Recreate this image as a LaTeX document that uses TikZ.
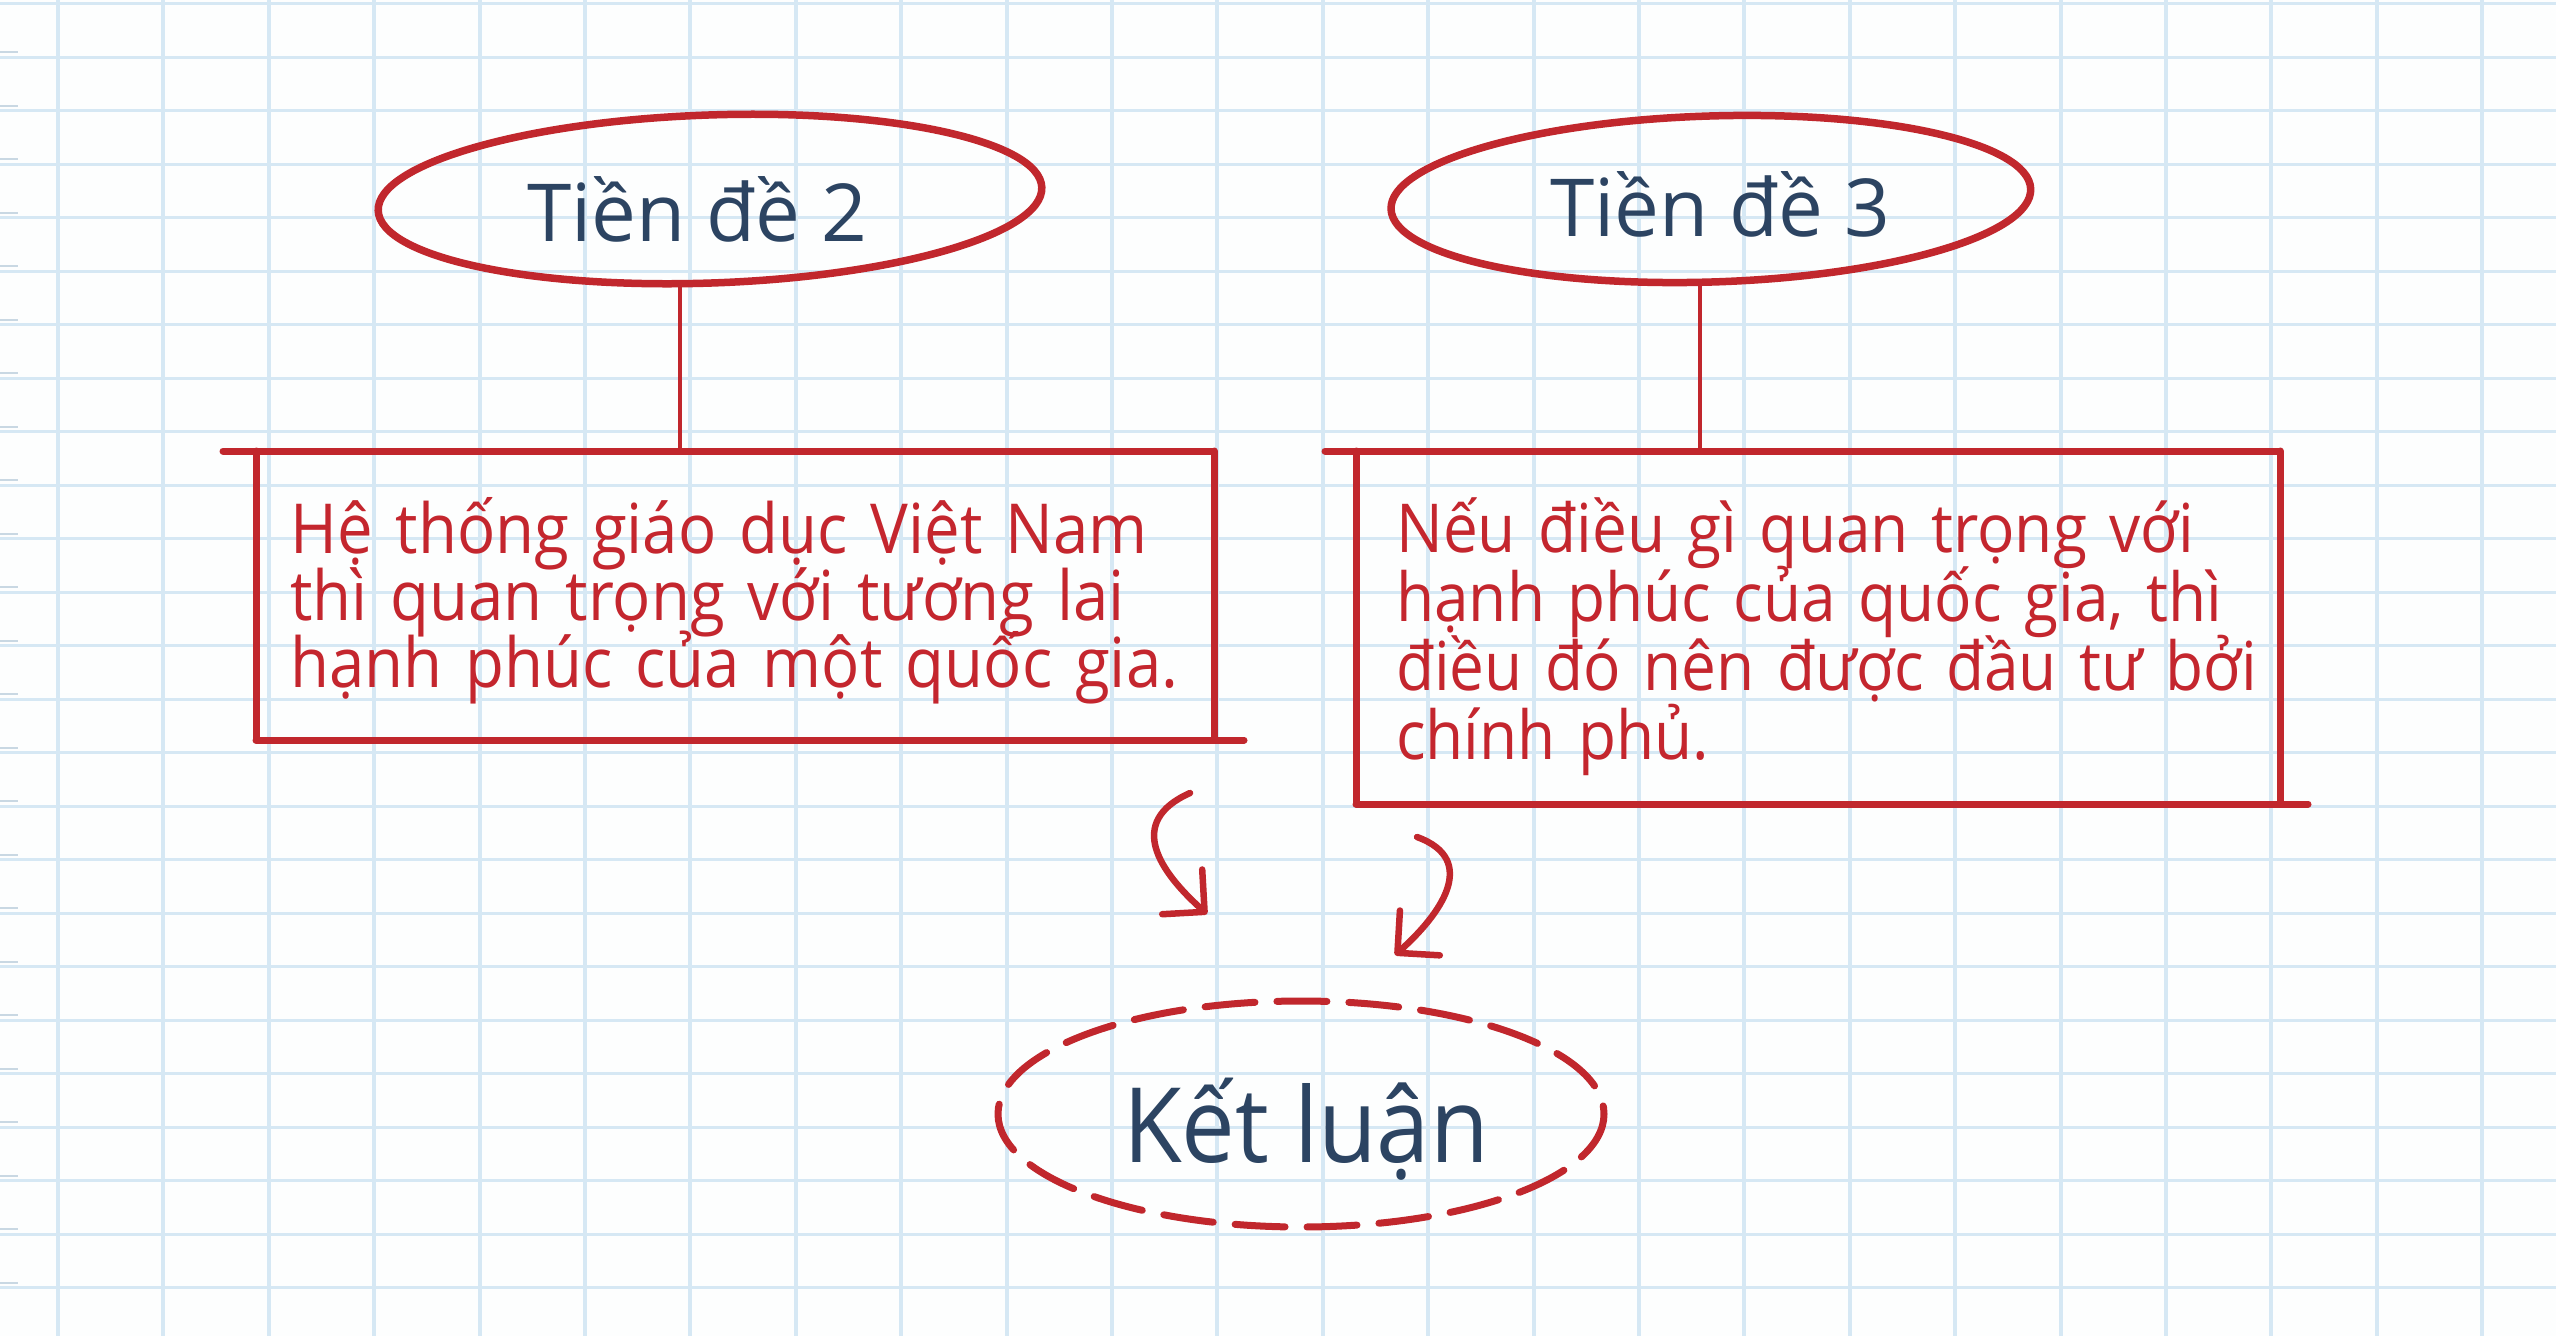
\documentclass[tikz,border=0pt]{standalone}
\usepackage{fontspec}
\setmainfont{Open Sans}
\newfontfamily\handfont[FakeStretch=0.92]{Open Sans}
\newcommand\boxfont{\handfont\fontsize{69}{67}\selectfont\lineskiplimit=-200pt\relax\lineskip=0pt\relax}
\newcommand\boxfontb{\handfont\fontsize{67.5}{69}\selectfont\lineskiplimit=-200pt\relax\lineskip=0pt\relax}
\usetikzlibrary{arrows.meta,calc,shapes.geometric}
\definecolor{gridblue}{HTML}{D6E8F4}
\definecolor{marginmark}{HTML}{C9D8E3}
\definecolor{penred}{HTML}{C1272D}
\definecolor{inkred}{HTML}{C4262E}
\definecolor{navy}{HTML}{2C4462}
\definecolor{paper}{HTML}{FDFEFE}
\begin{document}
\begin{tikzpicture}[x=1pt,y=-1pt,
  vgrid/.style={gridblue,line width=4pt},
  hgrid/.style={gridblue,line width=3pt},
  margintick/.style={marginmark,line width=2pt},
  pen/.style={penred,line width=7pt,line cap=round,line join=round},
  thinpen/.style={penred,line width=4.5pt,line cap=round},
  shapebox/.style={inner sep=0pt,outer sep=0pt,draw=none},
  premise/.style={shapebox,ellipse},
  headtext/.style={text=navy,font=\fontsize{80}{90}\selectfont,inner sep=0pt},
  bigtext/.style={text=navy,font=\handfont\fontsize{104}{120}\selectfont,inner sep=0pt},
  boxtext/.style={text=inkred,font=\boxfont,align=left,inner sep=0pt,text width=1100pt},
  curvy/.style={penred,line width=6.5pt,line cap=round,-{Straight Barb[length=30pt,width=60pt,round]}},
  dashring/.style={penred,line width=7pt,line cap=round,dash pattern=on 50pt off 22pt},
]
\useasboundingbox (0,0) rectangle (2556,1336);
\fill[paper] (0,0) rectangle (2556,1336);
% squared paper
\foreach \k in {0,...,23} \draw[vgrid] ({58+105.4*\k},0) -- ({58+105.4*\k},1336);
\foreach \k in {0,...,24} \draw[hgrid] (0,{3.5+53.5*\k}) -- (2556,{3.5+53.5*\k});
\foreach \k in {1,...,24} \draw[margintick] (0,{-1.5+53.5*\k}) -- (18,{-1.5+53.5*\k});

% premise 2
\node[premise,minimum width=664pt,minimum height=167pt] (e2) at (710,199) {};
\draw[pen,line width=7.5pt,rotate around={2:(e2.center)}] (e2.center) ellipse [x radius=332,y radius=84];
\node[headtext,anchor=base] (l2) at (697,241) {Tiền đề 2};

% premise 3
\node[premise,minimum width=640pt,minimum height=166pt] (e3) at (1711,199) {};
\draw[pen,line width=7.5pt,rotate around={1.8:(e3.center)}] (e3.center) ellipse [x radius=320,y radius=83];
\node[headtext,anchor=base] (l3) at (1720,236) {Tiền đề 3};

% box 2
\node[shapebox,rectangle,minimum width=958pt,minimum height=289pt,anchor=north west] (b2) at (256,451) {};
\draw[pen] ($(b2.north west)+(-33,0)$) -- (b2.north east);
\draw[pen] (b2.north west) -- (b2.south west);
\draw[pen] (b2.north east) -- (b2.south east);
\draw[pen] (b2.south west) -- ($(b2.south east)+(30,0)$);
\node[boxtext,anchor=base west] (t2) at ($(b2.north west)+(34,102)$) {Hệ thống giáo dục Việt Nam\\thì quan trọng với tương lai\\hạnh phúc của một quốc gia.};

% box 3
\node[shapebox,rectangle,minimum width=924pt,minimum height=353pt,anchor=north west] (b3) at (1356,451) {};
\draw[pen] ($(b3.north west)+(-31,0)$) -- (b3.north east);
\draw[pen] (b3.north west) -- (b3.south west);
\draw[pen] (b3.north east) -- (b3.south east);
\draw[pen] (b3.south west) -- ($(b3.south east)+(28,0)$);
\node[boxtext,font=\boxfontb,anchor=base west] (t3) at ($(b3.north west)+(40,101)$) {Nếu điều gì quan trọng với\\hạnh phúc của quốc gia, thì\\điều đó nên được đầu tư bởi\\chính phủ.};

% connectors
\draw[thinpen] ($(e2.south)+(-30,0)$) coordinate (c2) -- (c2 |- b2.north);
\draw[thinpen] ($(e3.south)+(-11,0)$) coordinate (c3) -- (c3 |- b3.north);

% conclusion
\node[premise,minimum width=606pt,minimum height=226pt] (k) at (1301,1114) {};
\draw[dashring] (k.center) ellipse [x radius=303,y radius=113];
\node[bigtext,anchor=base] (lk) at (1306,1162) {Kết luận};

% curved arrows
\coordinate (a2s) at (1190,793);
\coordinate (a2e) at (1207,914);
\draw[curvy] (a2s) .. controls (1125,822) and (1160,872) .. (a2e);
\coordinate (a3s) at (1417,837);
\coordinate (a3e) at (1395,955);
\draw[curvy] (a3s) .. controls (1480,860) and (1440,915) .. (a3e);
\end{tikzpicture}
\end{document}
